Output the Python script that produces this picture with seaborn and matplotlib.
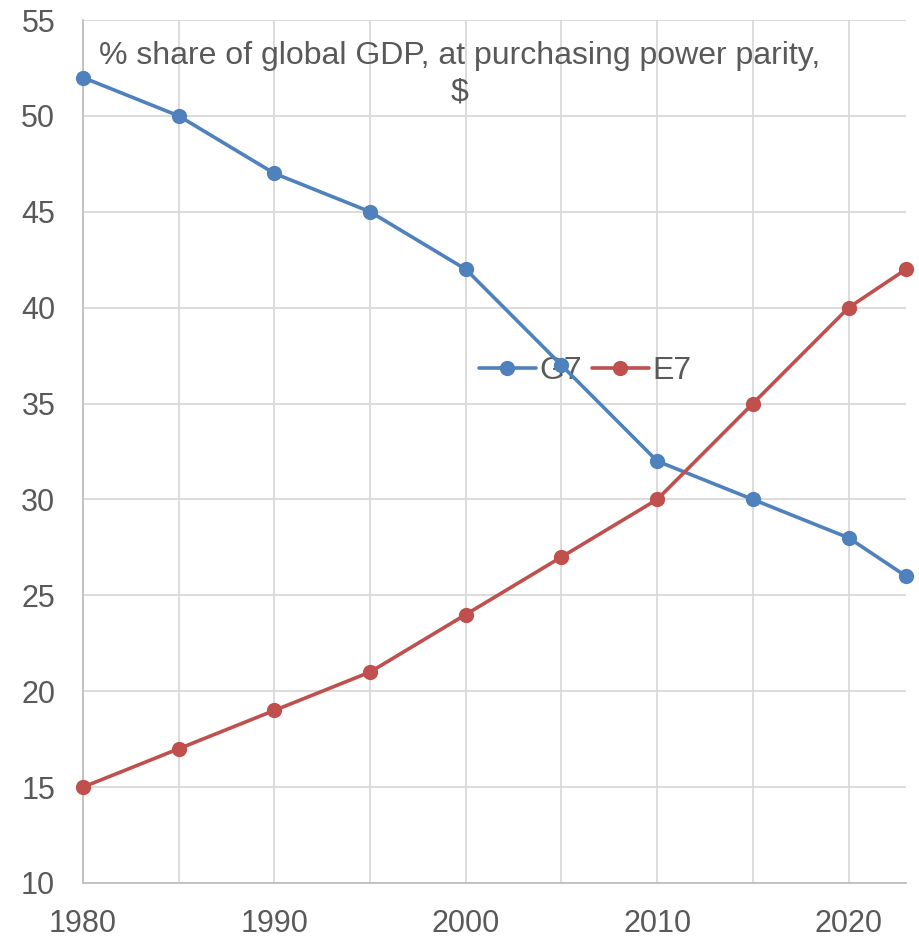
import pandas as pd
import numpy as np
import matplotlib.pyplot as plt
import seaborn as sns

years = [1980, 1985, 1990, 1995, 2000, 2005, 2010, 2015, 2020, 2023]
g7 = [52, 50, 47, 45, 42, 37, 32, 30, 28, 26]
e7 = [15, 17, 19, 21, 24, 27, 30, 35, 40, 42]
groups = ["G7", "E7"]
colors = {"G7": "#4f81bd", "E7": "#c0504d"}
title = "% share of global GDP, at purchasing power parity,\n$"

df = pd.DataFrame({
    "year": years * 2,
    "share": g7 + e7,
    "group": ["G7"] * len(years) + ["E7"] * len(years),
})

sns.set_style("white")
plt.rcParams["font.family"] = ["Liberation Sans", "DejaVu Sans"]
text_col = "#595959"
grid_col = "#d9d9d9"

fig = plt.figure(figsize=(9.19, 9.39), dpi=100)
ax = fig.add_axes([83 / 919, 56 / 939, 823 / 919, 863 / 939])

sns.lineplot(data=df, x="year", y="share", hue="group", hue_order=groups,
             palette=colors, marker="o", markersize=11, markeredgewidth=0,
             linewidth=2.6, ax=ax, zorder=3, clip_on=False)

ax.set_xlim(1980, 2023)
ax.set_ylim(10, 55)
ax.set_xticks([1980, 1990, 2000, 2010, 2020])
ax.set_xticks(np.arange(1985, 2021, 10), minor=True)
ax.set_yticks(np.arange(10, 56, 5))
ax.grid(True, which="both", color=grid_col, linewidth=1.3)
ax.set_axisbelow(True)
ax.tick_params(which="both", length=0, labelsize=22, labelcolor=text_col)
ax.tick_params(axis="y", pad=20)
ax.tick_params(axis="x", pad=19)
ax.set_xlabel("")
ax.set_ylabel("")
for s in ["top", "right"]:
    ax.spines[s].set_visible(False)
for s in ["left", "bottom"]:
    ax.spines[s].set_color("#bfbfbf")
    ax.spines[s].set_linewidth(1.3)

ax.text(0.458, 0.937, title, transform=ax.transAxes, ha="center", va="center",
        fontsize=23, color=text_col, linespacing=1.3)

leg = ax.legend(loc="center", bbox_to_anchor=(0.61, 0.593), ncol=2, frameon=False,
                fontsize=23, handlelength=1.8, handletextpad=0.1, columnspacing=0.3)
for t in leg.get_texts():
    t.set_color(text_col)
leg.set_zorder(2)

fig.savefig("out.png", dpi=100)
